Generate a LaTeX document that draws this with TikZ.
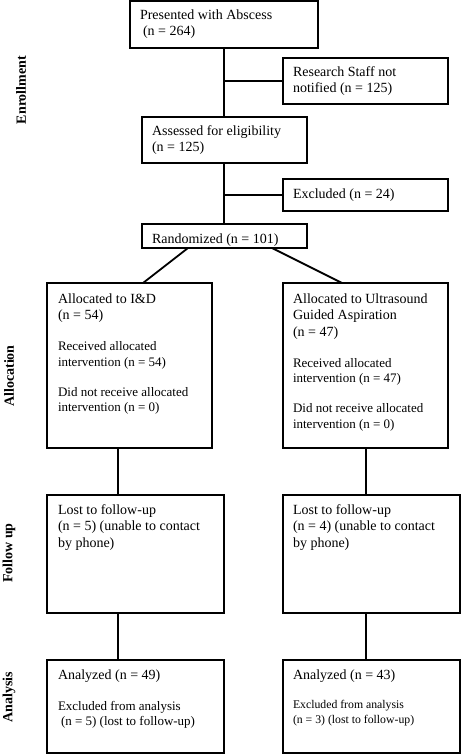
\documentclass[tikz,border=0pt]{standalone}
\usepackage{fontspec}
\setmainfont{Liberation Serif}
\newcommand{\fA}{\fontsize{14}{16.5}\selectfont}
\newcommand{\fB}{\fontsize{13}{15.5}\selectfont}
\newcommand{\fBb}{\fontsize{13}{15}\selectfont}
\newcommand{\fC}{\fontsize{11.75}{15}\selectfont}
\newcommand{\tb}[1]{\parbox[t]{190pt}{\raggedright #1}}
\tikzset{
  box/.style={draw, line width=1.8pt, inner sep=0pt, outer sep=0pt, anchor=north west},
  txt/.style={inner sep=0pt, outer sep=0pt, anchor=base west},
  phase/.style={font=\fontsize{14}{16}\selectfont\bfseries, rotate=90, inner sep=0pt},
  conn/.style={line width=1.8pt}
}
\begin{document}
\begin{tikzpicture}[x=1pt,y=-1pt]
\useasboundingbox (0,0) rectangle (474,755);
% boxes
\node[box, minimum width=188pt, minimum height=47pt] (B1) at (130,1) {};
\node[box, minimum width=165pt, minimum height=46pt] (B2) at (283,58) {};
\node[box, minimum width=165pt, minimum height=46pt] (B3) at (142,117) {};
\node[box, minimum width=165pt, minimum height=32pt] (B4) at (283,179) {};
\node[box, minimum width=165pt, minimum height=24pt] (B5) at (142,224) {};
\node[box, minimum width=165pt, minimum height=165pt] (B6) at (47,283) {};
\node[box, minimum width=165pt, minimum height=165pt] (B7) at (283,283) {};
\node[box, minimum width=177pt, minimum height=118pt] (B8) at (47,495) {};
\node[box, minimum width=177pt, minimum height=118pt] (B9) at (283,495) {};
\node[box, minimum width=177pt, minimum height=93pt] (B10) at (47,660) {};
\node[box, minimum width=177pt, minimum height=93pt] (B11) at (283,660) {};
% texts
\node[txt] (T1) at (140,19) {\tb{\fA Presented with Abscess\\\hspace*{3pt}(n = 264)}};
\node[txt] (T2) at (293,76) {\tb{\fA Research Staff not\\notified (n = 125)}};
\node[txt] (T3) at (152,135) {\tb{\fA Assessed for eligibility\\(n = 125)}};
\node[txt] (T4) at (293,198) {\tb{\fA Excluded (n = 24)}};
\node[txt] (T5) at (152,243) {\tb{\fA Randomized (n = 101)}};
\node[txt] (T6) at (58,303) {\tb{{\fA Allocated to I\&D\\(n = 54)\par}\vspace{15.5pt}{\fB Received allocated\\intervention (n = 54)\par}\vspace{14.5pt}{\fB Did not receive allocated\\intervention (n = 0)\par}}};
\node[txt] (T7) at (293,303) {\tb{{\fA Allocated to Ultrasound\\Guided Aspiration\\(n = 47)\par}\vspace{15.5pt}{\fB Received allocated\\intervention (n = 47)\par}\vspace{14.5pt}{\fB Did not receive allocated\\intervention (n = 0)\par}}};
\node[txt] (T8) at (58,514) {\tb{\fA Lost to follow-up\\(n = 5) (unable to contact\\by phone)}};
\node[txt] (T9) at (293,514) {\tb{\fA Lost to follow-up\\(n = 4) (unable to contact\\by phone)}};
\node[txt] (T10) at (58,679) {\tb{{\fA Analyzed (n = 49)\par}\vspace{16pt}{\fBb Excluded from analysis\\\hspace*{3pt}(n = 5) (lost to follow-up)\par}}};
\node[txt] (T11) at (293,679) {\tb{{\fA Analyzed (n = 43)\par}\vspace{14pt}{\fC Excluded from analysis\\(n = 3) (lost to follow-up)\par}}};
% phase labels
\node[phase] (L1) at (21,90) {Enrollment};
\node[phase] (L2) at (9,376) {Allocation};
\node[phase] (L3) at (9,553) {Follow up};
\node[phase] (L4) at (9,697) {Analysis};
% connectors
\draw[conn] (B1.south) -- (B3.north -| B1.south);
\draw[conn] (B2.west) -- (B2.west -| B1.south);
\draw[conn] (B3.south -| B1.south) -- (B5.north -| B1.south);
\draw[conn] (B4.west) -- (B4.west -| B1.south);
\draw[conn] ([xshift=46pt]B5.south west) -- ([xshift=96pt]B6.north west);
\draw[conn] ([xshift=130pt]B5.south west) -- ([xshift=59pt]B7.north west);
\draw[conn] ([xshift=71pt]B6.south west) -- ([xshift=71pt]B8.north west);
\draw[conn] ([xshift=83pt]B7.south west) -- ([xshift=83pt]B9.north west);
\draw[conn] ([xshift=71pt]B8.south west) -- ([xshift=71pt]B10.north west);
\draw[conn] ([xshift=83pt]B9.south west) -- ([xshift=83pt]B11.north west);
\end{tikzpicture}
\end{document}
